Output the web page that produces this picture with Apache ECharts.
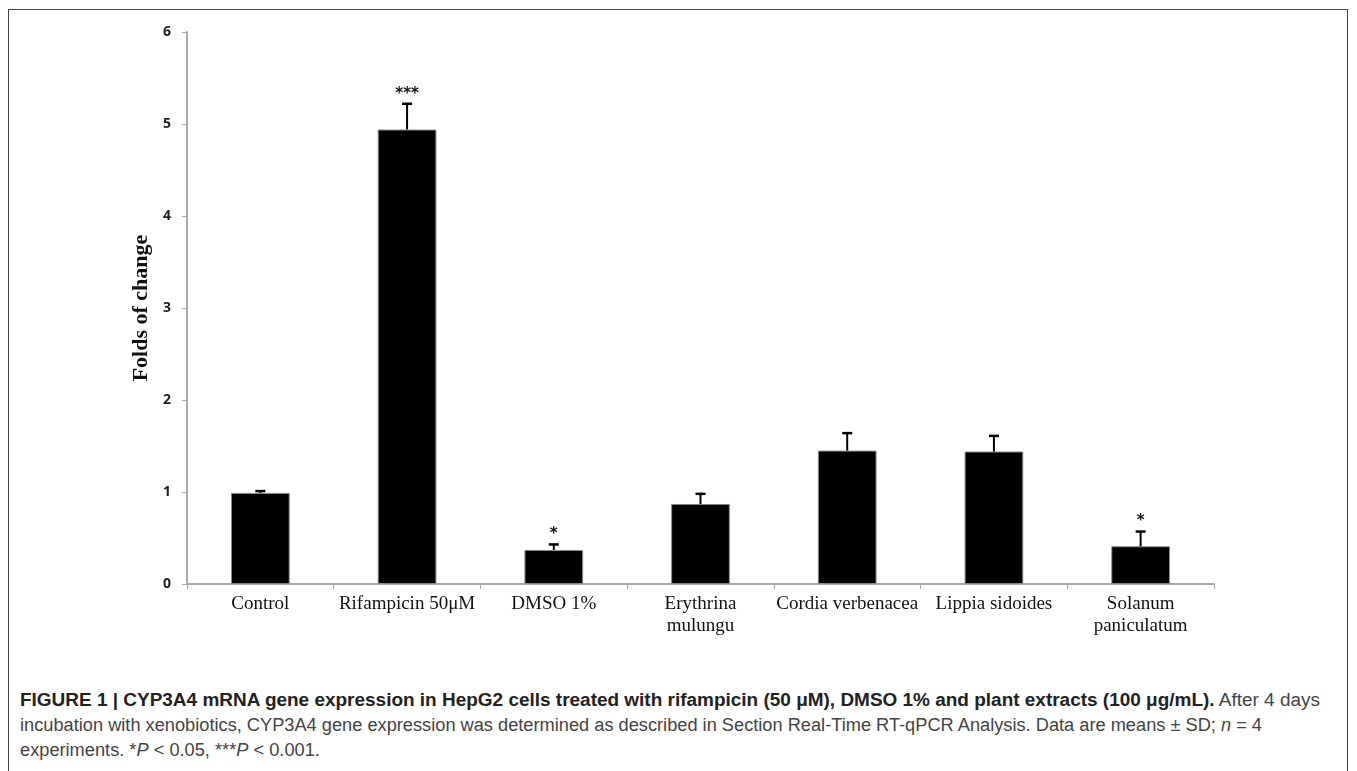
<!DOCTYPE html>
<html>
<head>
<meta charset="utf-8">
<script src="https://cdn.jsdelivr.net/npm/echarts@6/dist/echarts.min.js"></script>
<style>
  html, body { margin: 0; padding: 0; background: #fff; }
  #wrap { position: relative; width: 1357px; height: 771px; overflow: hidden; }
  #frame { position: absolute; left: 8px; top: 9px; width: 1340px; height: 800px; border: 1px solid #444; box-sizing: border-box; }
  #chart { position: absolute; left: 0; top: 0; width: 1357px; height: 680px; }
  #caption { position: absolute; left: 20px; top: 688px; font-family: "Liberation Sans", Arial, sans-serif; font-size: 18px; line-height: 25px; color: #444; white-space: nowrap; }
  #caption .line { display: block; transform-origin: 0 50%; }
  #caption b { color: #222; }
</style>
</head>
<body>
<div id="wrap">
  <div id="frame"></div>
  <div id="chart"></div>
  <div id="caption">
    <span class="line"><b>FIGURE 1 | CYP3A4 mRNA gene expression in HepG2 cells treated with rifampicin (50 μM), DMSO 1% and plant extracts (100 μg/mL).</b> After 4 days</span>
    <span class="line">incubation with xenobiotics, CYP3A4 gene expression was determined as described in Section Real-Time RT-qPCR Analysis. Data are means ± SD; <i>n</i> = 4</span>
    <span class="line">experiments. *<i>P</i> &lt; 0.05, ***<i>P</i> &lt; 0.001.</span>
  </div>
</div>
<script>
const categories = ['Control', 'Rifampicin 50μM', 'DMSO 1%', 'Erythrina\nmulungu', 'Cordia verbenacea', 'Lippia sidoides', 'Solanum\npaniculatum'];
const means = [0.99, 4.94, 0.37, 0.87, 1.45, 1.44, 0.41];
const sd = [0.02, 0.28, 0.06, 0.11, 0.19, 0.17, 0.16];
const significance = ['', '***', '*', '', '', '', '*'];
const yTicks = [0, 1, 2, 3, 4, 5, 6];

const chart = echarts.init(document.getElementById('chart'), null, { renderer: 'canvas' });

const errData = means.map((m, i) => [i, m, m + sd[i], significance[i]]);

chart.setOption({
  animation: false,
  grid: { left: 187, right: 143, top: 32, bottom: 96, containLabel: false },
  xAxis: {
    type: 'category',
    data: categories,
    axisLine: { lineStyle: { color: '#aaa', width: 2 } },
    axisTick: { show: true, length: 5, lineStyle: { color: '#aaa', width: 1 } },
    axisLabel: {
      interval: 0,
      fontFamily: '"Liberation Serif", "Times New Roman", serif',
      fontSize: 19,
      color: '#111',
      lineHeight: 22,
      margin: 9
    },
    splitLine: { show: false }
  },
  yAxis: {
    type: 'value',
    min: yTicks[0],
    max: yTicks[yTicks.length - 1],
    interval: 1,
    name: 'Folds of change',
    nameLocation: 'middle',
    nameRotate: 90,
    nameGap: 32,
    nameTextStyle: {
      fontFamily: '"Liberation Serif", "Times New Roman", serif',
      fontWeight: 'bold',
      fontSize: 22,
      color: '#111'
    },
    axisLine: { show: true, lineStyle: { color: '#aaa', width: 2 } },
    axisTick: { show: true, length: 5, lineStyle: { color: '#aaa', width: 1 } },
    axisLabel: {
      fontFamily: '"Open Sans", "DejaVu Sans", sans-serif',
      fontWeight: 'bold',
      fontSize: 14,
      color: '#222',
      margin: 16
    },
    splitLine: { show: false }
  },
  series: [
    {
      type: 'bar',
      data: means,
      barWidth: '40%',
      itemStyle: { color: '#000', borderColor: '#888', borderWidth: 1 },
      z: 2
    },
    {
      type: 'custom',
      data: errData,
      z: 3,
      renderItem: function (params, api) {
        const x = api.value(0);
        const top = api.coord([x, api.value(2)]);
        const base = api.coord([x, api.value(1)]);
        const capHalf = 5;
        const children = [
          { type: 'line', shape: { x1: top[0], y1: base[1], x2: top[0], y2: top[1] }, style: { stroke: '#000', lineWidth: 2 } },
          { type: 'line', shape: { x1: top[0] - capHalf, y1: top[1], x2: top[0] + capHalf, y2: top[1] }, style: { stroke: '#000', lineWidth: 2.5 } }
        ];
        const sig = significance[params.dataIndex];
        if (sig) {
          children.push({
            type: 'text',
            style: {
              text: sig,
              x: top[0],
              y: top[1] - 10,
              align: 'center',
              verticalAlign: 'middle',
              fontFamily: '"DejaVu Sans", sans-serif',
              fontWeight: 'bold',
              fontSize: 15,
              fill: '#111'
            }
          });
        }
        return { type: 'group', children: children };
      }
    }
  ]
});

// condense the caption: bold first line and regular lines to the reference widths
(function () {
  const lines = document.querySelectorAll('#caption .line');
  function natural(el) {
    el.style.display = 'inline-block';
    const w = el.getBoundingClientRect().width;
    el.style.display = 'block';
    return w;
  }
  const s1 = 1300 / natural(lines[0]);
  const s2 = 1242 / natural(lines[1]);
  lines[0].style.transform = 'scaleX(' + s1.toFixed(4) + ')';
  lines[1].style.transform = 'scaleX(' + s2.toFixed(4) + ')';
  lines[2].style.transform = 'scaleX(' + s2.toFixed(4) + ')';
})();
</script>
</body>
</html>
